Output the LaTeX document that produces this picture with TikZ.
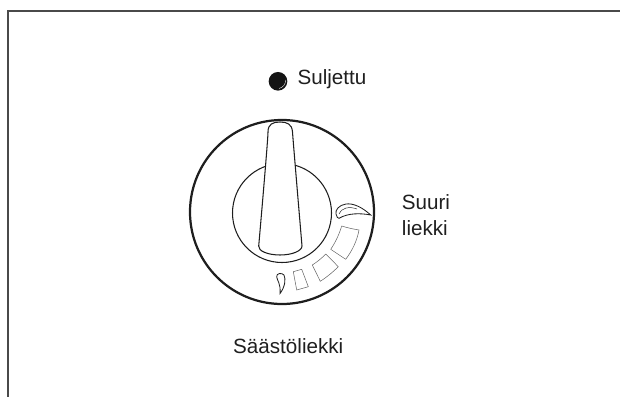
\documentclass[tikz,border=0pt]{standalone}
\usepackage{fontspec}
\setmainfont{Liberation Sans}
\usetikzlibrary{positioning}
\definecolor{frameline}{HTML}{4A4A4A}
\definecolor{dialline}{HTML}{1E1E1E}
\tikzset{
  labeltext/.style={font=\fontsize{17.6}{22.1}\selectfont, text=black!88, align=left, inner sep=0pt},
  frameedge/.style={draw=frameline, line width=0.95pt},
  dialrim/.style={draw=dialline, line width=1.9pt},
  dialline/.style={draw=dialline, line width=0.9pt},
  scalebox/.style={draw=black!60, line width=0.45pt, line join=round},
  flamefill/.style={draw=dialline, line width=0.7pt, fill=white}
}
\begin{document}
\begin{tikzpicture}[x=0.03cm,y=-0.03cm]
  \useasboundingbox (0,0) rectangle (620,397);

  % frame
  \coordinate (frameL) at (8,397);
  \coordinate (frameC) at (8,11);
  \coordinate (frameR) at (620,11);
  \draw[frameedge] (frameL) -- (frameC) -- (frameR);

  % closed mark
  \node[circle, fill=black!92, minimum size=0.56cm, inner sep=0pt] (dot) at (278,81.3) {};
  \draw[white, line width=0.3pt] (285.5,80) .. controls (286,84) and (283,87.5) .. (279,88.5);
  \node[labeltext, anchor=base west] (closed) at (297.3,85) {Suljettu};

  % dial
  \draw[dialrim] (282,212) circle (92);
  \draw[dialline] (282,213) circle (49.5);

  % handle
  \draw[dialline, fill=white] (258.7,246)
    .. controls (258.7,246) and (268,140) .. (268,132)
    .. controls (268,124) and (273,122) .. (280,122)
    .. controls (287,122) and (292,124) .. (292.5,132)
    .. controls (293,140) and (302,246) .. (302,246)
    .. controls (302,251) and (292,255) .. (280,255)
    .. controls (268,255) and (258,251) .. (258.7,246) -- cycle;

  % scale
  \draw[scalebox] (341.7,226) .. controls (348,228) and (353,229) .. (359,230)
    .. controls (357,241) and (352,251) .. (345.7,259.3)
    -- (330.7,249.3) .. controls (335,243) and (339,235) .. (341.7,226) -- cycle;
  \draw[scalebox] (325.7,254) -- (338.3,266.7)
    .. controls (333,272) and (327,277) .. (320.3,281.3)
    -- (312.3,265) .. controls (317,262) and (322,258) .. (325.7,254) -- cycle;
  \draw[scalebox] (293.3,271.7) -- (301.7,269.3) -- (308.3,286.7)
    .. controls (304,288) and (300,289) .. (296.7,290) -- cycle;

  % big flame
  \draw[flamefill] (370.7,215)
    .. controls (362,207) and (353,203) .. (346,204)
    .. controls (339,205) and (335,210) .. (336,214)
    .. controls (336.5,217) and (338,218.5) .. (339,218.3)
    .. controls (348,213) and (360,213) .. (370.7,215) -- cycle;
  \draw[dialline, line width=0.4pt] (339,214) .. controls (341,208) and (349,206) .. (357,209);

  % small flame
  \draw[flamefill] (280,293.5)
    .. controls (285,287) and (286,279) .. (284,275)
    .. controls (282,272.5) and (276,273) .. (276.7,277)
    .. controls (277,280) and (281,284) .. (280,293.5) -- cycle;

  % labels
  \node[labeltext, anchor=west] (large) at (401.7,215) {Suuri\\liekki};
  \node[labeltext, anchor=base west] (small) at (233,353.5) {Säästöliekki};
\end{tikzpicture}
\end{document}
